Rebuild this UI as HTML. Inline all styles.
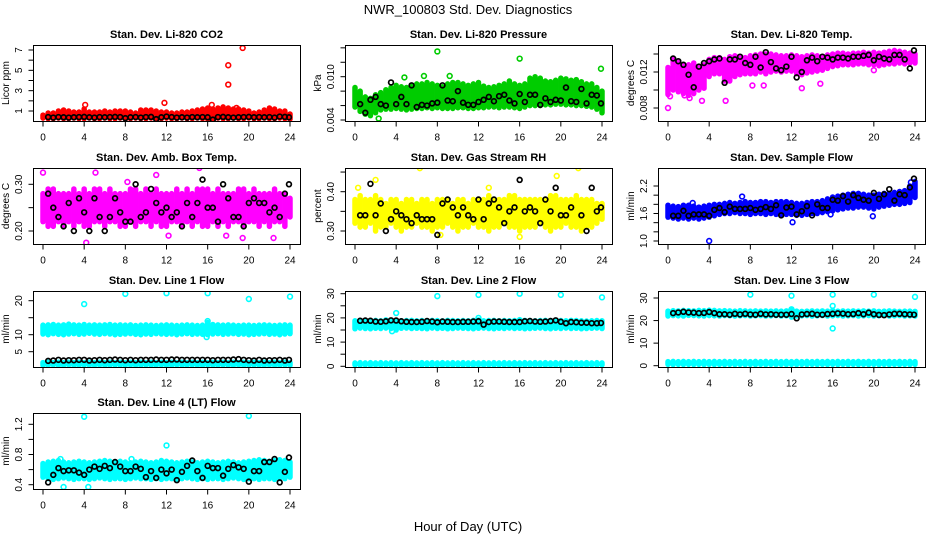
<!DOCTYPE html>
<html><head><meta charset="utf-8"><style>
html,body{margin:0;padding:0;background:#fff;}
svg{display:block;font-family:"Liberation Sans",sans-serif;}
</style></head><body>
<svg id="chart" width="936" height="540" viewBox="0 0 936 540">
<rect x="0" y="0" width="936" height="540" fill="#fff"/>
<text x="468" y="14" text-anchor="middle" font-size="13">NWR_100803 Std. Dev. Diagnostics</text>
<text x="468" y="531" text-anchor="middle" font-size="13">Hour of Day (UTC)</text>
</svg>
<script>
// shared time grids
const bandHours = [0,0.5,1,1.5,2,2.5,3,3.5,4,4.5,5,5.5,6,6.5,7,7.5,8,8.5,9,9.5,10,10.5,11,11.5,12,12.5,13,13.5,14,14.5,15,15.5,16,16.5,17,17.5,18,18.5,19,19.5,20,20.5,21,21.5,22,22.5,23,23.5,24];
const blackHours = [0.5,1,1.5,2,2.5,3,3.5,4,4.5,5,5.5,6,6.5,7,7.5,8,8.5,9,9.5,10,10.5,11,11.5,12,12.5,13,13.5,14,14.5,15,15.5,16,16.5,17,17.5,18,18.5,19,19.5,20,20.5,21,21.5,22,22.5,23,23.5,23.9];
const xTicks = [0,4,8,12,16,20,24];

// CO2
const co2Low = [0.3,0.25,0.25,0.3,0.25,0.25,0.3,0.25,0.25,0.3,0.25,0.25,0.3,0.25,0.25,0.3,0.2,0.25,0.3,0.25,0.25,0.3,0.25,0.25,0.3,0.25,0.25,0.3,0.25,0.25,0.3,0.25,0.2,0.25,0.3,0.25,0.25,0.3,0.25,0.25,0.3,0.25,0.25,0.3,0.25,0.25,0.3,0.25,0.2];
const co2High = [0.6,0.8,0.8,1.0,1.1,1.0,0.9,0.9,1.2,0.9,0.9,0.9,1.0,0.9,1.0,1.0,1.0,0.9,0.8,1.1,1.1,1.1,1.0,0.9,0.9,0.8,0.8,0.9,0.9,1.0,1.1,1.2,1.3,1.2,1.3,1.4,1.3,1.2,1.2,1.1,1.0,0.8,0.9,1.1,1.3,1.2,1.0,1.0,0.7];
const co2Black = [0.4,0.35,0.4,0.38,0.35,0.38,0.4,0.42,0.38,0.35,0.4,0.38,0.4,0.42,0.4,0.3,0.38,0.4,0.35,0.4,0.42,0.2,0.38,0.45,0.4,0.35,0.38,0.35,0.4,0.38,0.4,0.38,0.15,0.4,0.42,0.38,0.35,0.38,0.4,0.42,0.38,0.4,0.38,0.4,0.35,0.45,0.42,0.38];
const co2OutH = [4.1,11.8,16.4,18.0,18.0,19.4,18.8];
const co2OutV = [1.6,1.8,1.6,3.6,5.5,7.2,1.3];

// Pressure
const presLow = [0.0058,0.0052,0.0048,0.0046,0.0050,0.0054,0.0055,0.0055,0.0056,0.0055,0.0054,0.0055,0.0056,0.0056,0.0057,0.0056,0.0057,0.0056,0.0056,0.0056,0.0057,0.0057,0.0056,0.0056,0.0057,0.0057,0.0058,0.0058,0.0057,0.0058,0.0058,0.0057,0.0056,0.0058,0.0060,0.0060,0.0060,0.0061,0.0061,0.0062,0.0062,0.0061,0.0061,0.0060,0.0060,0.0059,0.0058,0.0055,0.0050];
const presHigh = [0.0085,0.0080,0.0072,0.0070,0.0075,0.0078,0.0082,0.0085,0.0088,0.0086,0.0085,0.0087,0.0090,0.0090,0.0092,0.0090,0.0088,0.0086,0.0090,0.0092,0.0092,0.0090,0.0088,0.0090,0.0092,0.0087,0.0085,0.0086,0.0088,0.0090,0.0094,0.0090,0.0088,0.0090,0.0098,0.0100,0.0098,0.0094,0.0093,0.0095,0.0098,0.0097,0.0095,0.0096,0.0093,0.0090,0.0090,0.0085,0.0080];
const presBlack = [0.0062,0.0050,0.0068,0.0072,0.0062,0.0060,0.0092,0.0062,0.0072,0.0062,0.0088,0.0058,0.0061,0.0060,0.0063,0.0064,0.0088,0.0067,0.0066,0.0080,0.0064,0.0061,0.0061,0.0065,0.0068,0.0072,0.0066,0.0073,0.0075,0.0067,0.0063,0.0076,0.0065,0.0075,0.0075,0.0061,0.0070,0.0065,0.0068,0.0067,0.0085,0.0066,0.0065,0.0083,0.0063,0.0075,0.0074,0.0063];
const presOutH = [8.0,16.0,23.9,2.3,9.2,6.7,4.8];
const presOutV = [0.0135,0.0125,0.0111,0.0042,0.0101,0.0101,0.0099];

// Li-820 Temp
const tempLow = [0.0095,0.0100,0.0098,0.0096,0.0094,0.0096,0.0100,0.0102,0.0115,0.0118,0.0118,0.0110,0.0110,0.0115,0.0117,0.0118,0.0118,0.0118,0.0120,0.0118,0.0120,0.0121,0.0120,0.0121,0.0121,0.0118,0.0117,0.0119,0.0120,0.0121,0.0122,0.0124,0.0126,0.0127,0.0128,0.0128,0.0128,0.0129,0.0129,0.0128,0.0128,0.0127,0.0128,0.0129,0.0129,0.0130,0.0129,0.0130,0.0130];
const tempHigh = [0.0125,0.0135,0.0132,0.0128,0.0128,0.0130,0.0126,0.0128,0.0134,0.0136,0.0136,0.0134,0.0137,0.0138,0.0137,0.0136,0.0138,0.0139,0.0140,0.0140,0.0140,0.0139,0.0138,0.0138,0.0139,0.0138,0.0137,0.0138,0.0139,0.0138,0.0137,0.0139,0.0140,0.0141,0.0141,0.0140,0.0141,0.0141,0.0142,0.0141,0.0142,0.0141,0.0142,0.0143,0.0144,0.0143,0.0142,0.0141,0.0140];
const tempBlack = [0.0135,0.0132,0.0128,0.0117,0.0103,0.0126,0.0130,0.0132,0.0134,0.0135,0.0108,0.0134,0.0134,0.0137,0.0130,0.0128,0.0137,0.0125,0.0142,0.0131,0.0124,0.0122,0.0126,0.0137,0.0114,0.0120,0.0133,0.0136,0.0132,0.0137,0.0136,0.0134,0.0136,0.0136,0.0135,0.0137,0.0137,0.0138,0.0139,0.0133,0.0137,0.0135,0.0134,0.0139,0.0139,0.0134,0.0124,0.0144];
const tempOutH = [0.0,2.9,0.2,3.3,5.6,8.2,9.3,13.0,14.8,20.0,1.6,2.1];
const tempOutV = [0.0080,0.0053,0.0093,0.0088,0.0088,0.0105,0.0105,0.0102,0.0107,0.0122,0.0094,0.0091];

// Amb Box Temp
const ambLow = [0.22,0.21,0.21,0.22,0.21,0.22,0.21,0.22,0.21,0.21,0.22,0.22,0.21,0.22,0.22,0.21,0.21,0.22,0.21,0.22,0.22,0.21,0.22,0.21,0.21,0.22,0.22,0.21,0.22,0.21,0.22,0.21,0.21,0.22,0.21,0.22,0.21,0.22,0.22,0.21,0.22,0.22,0.21,0.22,0.21,0.22,0.22,0.21,0.23];
const ambHigh = [0.28,0.29,0.29,0.28,0.28,0.28,0.29,0.28,0.29,0.28,0.29,0.29,0.28,0.29,0.28,0.28,0.28,0.29,0.29,0.28,0.29,0.28,0.29,0.28,0.28,0.28,0.29,0.28,0.29,0.28,0.29,0.29,0.29,0.28,0.29,0.28,0.28,0.28,0.29,0.29,0.28,0.29,0.28,0.28,0.28,0.29,0.28,0.28,0.27];
const ambBlack = [0.28,0.25,0.23,0.21,0.26,0.20,0.27,0.24,0.20,0.27,0.23,0.20,0.23,0.27,0.24,0.22,0.22,0.30,0.23,0.24,0.29,0.26,0.24,0.25,0.23,0.24,0.21,0.26,0.23,0.26,0.31,0.25,0.25,0.22,0.30,0.27,0.23,0.23,0.21,0.26,0.27,0.26,0.26,0.24,0.25,0.23,0.28,0.30];
const ambOutH = [0.0,4.2,15.2,5.1,12.2,17.8,8.2,11.0,22.4,19.4];
const ambOutV = [0.325,0.175,0.335,0.325,0.190,0.190,0.305,0.320,0.185,0.185];

// Gas Stream RH
const rhLow = [0.32,0.31,0.31,0.32,0.30,0.31,0.31,0.32,0.31,0.30,0.31,0.31,0.32,0.31,0.31,0.30,0.31,0.31,0.32,0.31,0.30,0.31,0.31,0.32,0.31,0.31,0.30,0.31,0.31,0.32,0.31,0.31,0.30,0.31,0.31,0.31,0.32,0.31,0.30,0.31,0.31,0.32,0.31,0.31,0.30,0.31,0.31,0.32,0.33];
const rhHigh = [0.38,0.39,0.38,0.38,0.39,0.38,0.37,0.38,0.38,0.37,0.38,0.38,0.37,0.38,0.38,0.37,0.38,0.38,0.38,0.37,0.38,0.38,0.37,0.38,0.38,0.38,0.39,0.38,0.38,0.38,0.39,0.39,0.38,0.38,0.38,0.38,0.38,0.38,0.39,0.39,0.38,0.38,0.38,0.39,0.38,0.38,0.38,0.37,0.37];
const rhBlack = [0.34,0.34,0.42,0.34,0.37,0.30,0.33,0.35,0.34,0.33,0.32,0.34,0.33,0.33,0.33,0.29,0.37,0.38,0.36,0.34,0.36,0.34,0.33,0.38,0.33,0.37,0.38,0.36,0.32,0.35,0.36,0.43,0.35,0.36,0.35,0.32,0.38,0.35,0.41,0.34,0.34,0.36,0.48,0.34,0.30,0.41,0.35,0.36];
const rhOutH = [2.0,6.3,21.7,8.3,16.0,19.6,13.0,0.3];
const rhOutV = [0.43,0.46,0.46,0.29,0.285,0.44,0.41,0.41];

// Sample Flow
const sfLow = [1.52,1.50,1.48,1.50,1.48,1.50,1.48,1.50,1.52,1.55,1.58,1.60,1.60,1.62,1.60,1.60,1.58,1.60,1.60,1.58,1.60,1.58,1.56,1.58,1.58,1.56,1.56,1.58,1.60,1.60,1.62,1.64,1.66,1.68,1.70,1.72,1.72,1.74,1.74,1.72,1.70,1.74,1.76,1.78,1.80,1.80,1.82,1.84,1.95];
const sfHigh = [1.78,1.76,1.75,1.78,1.78,1.76,1.74,1.76,1.78,1.80,1.80,1.82,1.84,1.82,1.84,1.86,1.84,1.84,1.86,1.86,1.84,1.86,1.86,1.86,1.84,1.82,1.82,1.84,1.86,1.86,1.88,1.92,1.96,1.98,2.00,2.02,2.04,2.04,2.02,2.00,2.00,2.02,2.04,2.04,2.06,2.08,2.10,2.20,2.30];
const sfBlack = [1.55,1.55,1.66,1.55,1.58,1.58,1.58,1.55,1.68,1.72,1.63,1.75,1.70,1.70,1.70,1.72,1.68,1.70,1.74,1.70,1.78,1.56,1.73,1.75,1.58,1.65,1.76,1.56,1.80,1.72,1.72,1.90,1.88,1.98,1.86,2.00,1.94,1.90,1.88,2.05,1.92,2.02,2.13,1.88,2.02,2.00,2.17,2.36];
const sfOutH = [4.0,2.4,7.2,12.1,15.8,19.9,23.6];
const sfOutV = [1.00,1.83,1.97,1.41,1.58,1.54,2.28];

// Line 1 Flow
const l1UpLow = [10.2,10.0,10.3,10.1,10.0,10.2,10.3,10.1,10.2,10.4,10.2,10.1,10.3,10.2,10.0,10.1,10.2,10.3,10.1,10.0,10.2,10.1,10.3,10.2,10.1,10.2,10.0,10.2,10.3,10.1,10.2,10.1,10.0,10.2,10.3,10.1,10.2,10.3,10.1,10.2,10.0,10.1,10.2,10.3,10.1,10.2,10.0,10.2,10.3];
const l1UpHigh = [12.8,12.9,13.0,12.8,12.9,13.1,12.9,12.8,13.0,12.8,12.9,12.8,12.9,13.0,12.8,12.9,12.8,12.9,12.7,12.8,12.9,12.8,12.7,12.8,12.9,12.8,12.7,12.8,12.9,12.8,12.7,12.8,13.6,13.0,12.9,12.8,12.9,12.8,12.7,12.8,12.8,12.7,12.8,12.9,12.8,12.7,12.8,12.9,12.8];
const l1LoLow = [1.0,1.0,1.1,1.0,1.0,1.1,1.0,1.0,1.1,1.0,1.0,1.1,1.0,1.0,1.1,1.0,1.0,1.1,1.0,1.0,1.1,1.0,1.0,1.1,1.0,1.0,1.1,1.0,1.0,1.1,1.0,1.0,1.1,1.0,1.0,1.1,1.0,1.0,1.1,1.0,1.0,1.1,1.0,1.0,1.1,1.0,1.0,1.1,1.0];
const l1LoHigh = [1.8,1.9,1.8,1.9,1.8,1.9,1.8,1.9,1.8,1.9,1.8,1.9,1.8,1.9,1.8,1.9,1.8,1.9,1.8,1.9,1.8,1.9,1.8,1.9,1.8,1.9,1.8,1.9,1.8,1.9,1.8,1.9,1.8,1.9,1.8,1.9,1.8,1.9,1.8,1.9,1.8,1.9,1.8,1.9,1.8,1.9,1.8,1.9,1.8];
const l1Black = [2.3,2.4,2.6,2.4,2.5,2.5,2.6,2.6,2.4,2.5,2.6,2.5,2.6,2.7,2.6,2.5,2.6,2.5,2.6,2.6,2.6,2.7,2.6,2.6,2.7,2.7,2.6,2.6,2.6,2.6,2.6,2.6,2.5,2.6,2.6,2.6,2.7,2.8,2.6,2.5,2.4,2.6,2.4,2.5,2.5,2.6,2.4,2.6];
const l1OutH = [4.0,8.0,12.0,16.0,20.0,24.0,16.0,15.9];
const l1OutV = [19.0,22.0,22.2,22.2,20.5,21.2,14.0,9.3];

// Line 2 Flow
const l2UpLow = [15.5,15.8,15.6,15.5,15.7,15.6,15.8,15.6,15.0,15.7,15.8,15.6,15.7,15.6,15.5,15.8,15.6,15.7,15.5,15.6,15.8,15.7,15.6,15.5,15.7,15.8,15.6,15.5,15.7,15.6,15.8,15.6,15.7,15.5,15.6,15.7,15.8,15.6,15.5,15.7,15.6,15.8,15.6,15.7,15.5,15.6,15.7,15.8,15.6];
const l2UpHigh = [18.8,19.0,18.9,18.8,19.0,18.8,19.2,18.9,19.0,18.8,18.9,19.0,18.8,18.9,18.8,19.0,18.9,18.8,19.0,18.9,18.8,18.9,18.8,19.0,19.2,18.8,18.9,19.0,18.8,18.9,18.8,18.9,19.3,19.0,18.9,18.8,18.9,19.0,18.9,18.8,18.9,18.8,19.0,18.9,18.8,18.7,18.8,18.9,18.8];
const l2LoLow = [0.6,0.5,0.6,0.5,0.6,0.5,0.6,0.5,0.6,0.5,0.6,0.5,0.6,0.5,0.6,0.5,0.6,0.5,0.6,0.5,0.6,0.5,0.6,0.5,0.6,0.5,0.6,0.5,0.6,0.5,0.6,0.5,0.6,0.5,0.6,0.5,0.6,0.5,0.6,0.5,0.6,0.5,0.6,0.5,0.6,0.5,0.6,0.5,0.6];
const l2LoHigh = [1.4,1.5,1.4,1.5,1.4,1.5,1.4,1.5,1.4,1.5,1.4,1.5,1.4,1.5,1.4,1.5,1.4,1.5,1.4,1.5,1.4,1.5,1.4,1.5,1.4,1.5,1.4,1.5,1.4,1.5,1.4,1.5,1.4,1.5,1.4,1.5,1.4,1.5,1.4,1.5,1.4,1.5,1.4,1.5,1.4,1.5,1.4,1.5,1.4];
const l2Black = [18.8,18.9,18.8,18.5,18.4,18.6,19.0,18.9,18.6,18.4,18.3,18.3,18.4,18.7,18.5,18.2,18.5,18.4,18.3,18.3,18.4,18.4,18.5,18.6,17.2,18.3,18.5,18.5,18.4,18.3,18.3,18.3,18.6,18.7,18.5,18.4,18.5,18.7,19.0,18.4,17.8,18.3,18.2,18.0,18.0,17.8,17.8,17.9];
const l2OutH = [8.0,12.0,16.0,20.0,24.0,4.0,12.0,3.6];
const l2OutV = [29.0,29.5,30.0,29.5,28.5,22.0,20.0,14.5];

// Line 3 Flow
const l3UpLow = [22.0,22.2,22.1,22.0,22.3,22.2,22.1,22.0,22.2,22.1,22.0,22.2,22.1,22.0,22.1,22.2,22.0,22.1,22.2,22.0,22.1,22.2,22.0,22.1,21.5,22.0,22.1,22.2,22.0,22.1,22.2,22.0,22.1,22.2,22.0,22.1,22.2,22.0,22.1,22.2,22.0,22.1,22.2,22.0,22.1,22.2,22.0,22.1,22.0];
const l3UpHigh = [24.2,24.4,24.3,24.5,24.4,24.3,24.5,24.4,24.6,24.5,24.3,24.4,24.3,24.2,24.4,24.3,24.2,24.3,24.2,24.3,24.2,24.3,24.2,24.3,24.6,24.2,24.1,24.2,24.3,24.2,24.3,24.2,24.5,24.2,24.3,24.2,24.3,24.2,24.3,24.2,24.3,24.1,24.2,24.3,24.2,24.1,24.2,24.2,24.1];
const l3LoLow = [0.6,0.5,0.6,0.5,0.6,0.5,0.6,0.5,0.6,0.5,0.6,0.5,0.6,0.5,0.6,0.5,0.6,0.5,0.6,0.5,0.6,0.5,0.6,0.5,0.6,0.5,0.6,0.5,0.6,0.5,0.6,0.5,0.6,0.5,0.6,0.5,0.6,0.5,0.6,0.5,0.6,0.5,0.6,0.5,0.6,0.5,0.6,0.5,0.6];
const l3LoHigh = [1.8,1.9,1.8,1.9,1.8,1.9,1.8,1.9,1.8,1.9,1.8,1.9,1.8,1.9,1.8,1.9,1.8,1.9,1.8,1.9,1.8,1.9,1.8,1.9,1.8,1.9,1.8,1.9,1.8,1.9,1.8,1.9,1.8,1.9,1.8,1.9,1.8,1.9,1.8,1.9,1.8,1.9,1.8,1.9,1.8,1.9,1.8,1.9,1.8];
const l3Black = [23.3,23.6,23.9,23.6,23.5,23.3,23.4,23.8,23.3,22.8,22.8,22.6,23.0,22.7,23.0,22.7,22.6,23.0,22.7,22.8,22.6,22.6,22.6,22.9,21.0,22.7,22.9,23.0,22.6,22.6,22.9,23.0,23.2,23.1,22.8,22.9,23.3,22.8,23.5,22.8,22.5,22.4,22.7,23.0,23.0,22.8,22.7,22.6];
const l3OutH = [8.0,12.0,16.0,20.0,24.0,16.0,16.0,12.0];
const l3OutV = [31.5,31.0,31.5,31.5,30.5,16.5,26.5,25.0];

// Line 4 Flow
const l4Low = [0.50,0.48,0.47,0.48,0.49,0.48,0.47,0.48,0.48,0.47,0.48,0.49,0.48,0.47,0.48,0.48,0.47,0.48,0.49,0.48,0.48,0.47,0.48,0.47,0.48,0.48,0.47,0.48,0.49,0.48,0.47,0.48,0.47,0.48,0.48,0.47,0.48,0.49,0.48,0.47,0.48,0.48,0.47,0.48,0.48,0.47,0.48,0.48,0.50];
const l4High = [0.68,0.70,0.71,0.72,0.70,0.69,0.70,0.71,0.70,0.69,0.70,0.71,0.72,0.71,0.70,0.71,0.70,0.69,0.70,0.71,0.70,0.69,0.70,0.72,0.71,0.70,0.69,0.70,0.71,0.70,0.69,0.70,0.71,0.70,0.69,0.70,0.71,0.70,0.69,0.70,0.71,0.72,0.73,0.72,0.71,0.72,0.73,0.72,0.70];
const l4Black = [0.43,0.53,0.62,0.58,0.59,0.59,0.56,0.53,0.60,0.64,0.61,0.65,0.62,0.70,0.64,0.58,0.58,0.64,0.61,0.50,0.58,0.49,0.60,0.55,0.60,0.46,0.57,0.65,0.72,0.58,0.49,0.65,0.62,0.62,0.52,0.61,0.66,0.63,0.61,0.44,0.58,0.58,0.70,0.70,0.74,0.43,0.57,0.76];
const l4OutH = [4.0,20.0,12.0,2.0,4.4,1.7,8.6];
const l4OutV = [1.30,1.31,0.92,0.37,0.37,0.74,0.74];

const svg = document.getElementById('chart');
const NS = 'http://www.w3.org/2000/svg';
const colL = [33,345,658];
const rowT = [45,168,291,413];
const BOXW = 267, BOXH = 76;

function mk(tag, attrs, parent){
  const e = document.createElementNS(NS, tag);
  for (const k in attrs) e.setAttribute(k, attrs[k]);
  (parent||svg).appendChild(e);
  return e;
}

const panels = [
  {key:'co2',title:'Stan. Dev. Li-820 CO2',col:0,row:0,ylab:'Licor ppm',color:'#ff0000',r:[[1,111],[7,50]],ticks:[1,2,3,4,5,6,7],labels:[1,3,5,7],fmt:v=>String(v),
   bands:[[co2Low,co2High]],black:co2Black,outH:co2OutH,outV:co2OutV},
  {key:'pressure',title:'Stan. Dev. Li-820 Pressure',col:1,row:0,ylab:'kPa',color:'#00cc00',r:[[0.010,76.7],[0.004,120]],ticks:[0.004,0.006,0.008,0.010,0.012,0.014],labels:[0.004,0.010],fmt:v=>v.toFixed(3),
   bands:[[presLow,presHigh]],black:presBlack,outH:presOutH,outV:presOutV},
  {key:'li820-temp',title:'Stan. Dev. Li-820 Temp.',col:2,row:0,ylab:'degrees C',color:'#ff00ff',r:[[0.012,72],[0.008,108]],ticks:[0.008,0.010,0.012,0.014],labels:[0.008,0.012],fmt:v=>v.toFixed(3),
   bands:[[tempLow,tempHigh]],black:tempBlack,outH:tempOutH,outV:tempOutV},
  {key:'amb-box-temp',title:'Stan. Dev. Amb. Box Temp.',col:0,row:1,ylab:'degrees C',color:'#ff00ff',r:[[0.30,184.3],[0.20,231]],ticks:[0.20,0.25,0.30],labels:[0.20,0.30],fmt:v=>v.toFixed(2),
   bands:[[ambLow,ambHigh]],black:ambBlack,outH:ambOutH,outV:ambOutV},
  {key:'gas-stream-rh',title:'Stan. Dev. Gas Stream RH',col:1,row:1,ylab:'percent',color:'#ffff00',r:[[0.40,191.7],[0.30,231]],ticks:[0.30,0.35,0.40,0.45],labels:[0.30,0.40],fmt:v=>v.toFixed(2),
   bands:[[rhLow,rhHigh]],black:rhBlack,outH:rhOutH,outV:rhOutV},
  {key:'sample-flow',title:'Stan. Dev. Sample Flow',col:2,row:1,ylab:'ml/min',color:'#0000ff',r:[[2.2,186],[1.0,241]],ticks:[1.0,1.2,1.4,1.6,1.8,2.0,2.2],labels:[1.0,1.6,2.2],fmt:v=>v.toFixed(1),
   bands:[[sfLow,sfHigh]],black:sfBlack,outH:sfOutH,outV:sfOutV},
  {key:'line1-flow',title:'Stan. Dev. Line 1 Flow',col:0,row:2,ylab:'ml/min',color:'#00ffff',r:[[20,300.7],[5,351.7]],ticks:[5,10,15,20],labels:[5,10,20],fmt:v=>String(v),
   bands:[[l1UpLow,l1UpHigh],[l1LoLow,l1LoHigh]],black:l1Black,outH:l1OutH,outV:l1OutV},
  {key:'line2-flow',title:'Stan. Dev. Line 2 Flow',col:1,row:2,ylab:'ml/min',color:'#00ffff',r:[[30,293.7],[0,366.3]],ticks:[0,5,10,15,20,25,30],labels:[0,10,20,30],fmt:v=>String(v),
   bands:[[l2UpLow,l2UpHigh],[l2LoLow,l2LoHigh]],black:l2Black,outH:l2OutH,outV:l2OutV},
  {key:'line3-flow',title:'Stan. Dev. Line 3 Flow',col:2,row:2,ylab:'ml/min',color:'#00ffff',r:[[30,298],[0,365.7]],ticks:[0,10,20,30],labels:[0,10,20,30],fmt:v=>String(v),
   bands:[[l3UpLow,l3UpHigh],[l3LoLow,l3LoHigh]],black:l3Black,outH:l3OutH,outV:l3OutV},
  {key:'line4-flow',title:'Stan. Dev. Line 4 (LT) Flow',col:0,row:3,ylab:'ml/min',color:'#00ffff',r:[[1.2,424.3],[0.4,484.7]],ticks:[0.4,0.6,0.8,1.0,1.2],labels:[0.4,0.8,1.2],fmt:v=>v.toFixed(1),
   bands:[[l4Low,l4High]],black:l4Black,outH:l4OutH,outV:l4OutV}
];

panels.forEach(p=>{
  const L = colL[p.col], T = rowT[p.row];
  const xs = h => L + 10 + h*(247/24);
  const [[v1,y1],[v2,y2]] = p.r;
  const ys = v => y1 + (v - v1)*(y2 - y1)/(v2 - v1);
  const g = mk('g',{});
  
  
  const clip = mk('clipPath',{id:'clip-'+p.key}, g);
  mk('rect',{x:L,y:T,width:BOXW,height:BOXH}, clip);
  const marks = mk('g',{'clip-path':'url(#clip-'+p.key+')'}, g);
  
  
  p.bands.forEach(([lo,hi])=>{
    bandHours.forEach((h,i)=>{
      const ln = mk('line',{x1:xs(h),x2:xs(h),y1:ys(lo[i]),y2:ys(hi[i]),stroke:p.color,'stroke-width':5.5,'stroke-linecap':'round'}, marks);
      
      
    });
  });
  p.outH.forEach((h,i)=>{
    const c = mk('circle',{cx:xs(h),cy:ys(p.outV[i]),r:2.4,fill:'none',stroke:p.color,'stroke-width':1.6}, marks);
    
    
  });
  blackHours.forEach((h,i)=>{
    const c = mk('circle',{cx:xs(h),cy:ys(p.black[i]),r:2.4,fill:'none',stroke:'#000','stroke-width':1.7}, marks);
    
    
  });
  const box = mk('rect',{x:L+0.5,y:T+0.5,width:BOXW,height:BOXH,fill:'none',stroke:'#000','stroke-width':1}, g);
  
  
  const t = mk('text',{x:L+BOXW/2,y:T-7,'text-anchor':'middle','font-size':11,'font-weight':'bold'}, g);
  t.textContent = p.title;
  
  
  const yb = T + BOXH + 0.5;
  mk('line',{x1:xs(0),x2:xs(24),y1:yb,y2:yb,stroke:'#000'}, g);
  xTicks.forEach(v=>{
    mk('line',{x1:xs(v),x2:xs(v),y1:yb,y2:yb+5,stroke:'#000'}, g);
    const tl = mk('text',{x:xs(v),y:yb+19,'text-anchor':'middle','font-size':10}, g);
    tl.textContent = v;
    
    
  });
  const xl = L + 0.5;
  mk('line',{x1:xl,x2:xl,y1:ys(p.ticks[0]),y2:ys(p.ticks[p.ticks.length-1]),stroke:'#000'}, g);
  p.ticks.forEach(v=>{
    mk('line',{x1:xl-5,x2:xl,y1:ys(v),y2:ys(v),stroke:'#000'}, g);
  });
  p.labels.forEach(v=>{
    const yy = ys(v), xx = L - 11;
    const tl = mk('text',{x:xx,y:yy,'text-anchor':'middle','font-size':10,transform:'rotate(-90 '+xx+' '+yy+')'}, g);
    tl.textContent = p.fmt(v);
    
    
  });
  const lx = L - 24, ly = T + BOXH/2;
  const yl = mk('text',{x:lx,y:ly,'text-anchor':'middle','font-size':10,transform:'rotate(-90 '+lx+' '+ly+')'}, g);
  yl.textContent = p.ylab;
  
  
});
</script>
</body></html>
